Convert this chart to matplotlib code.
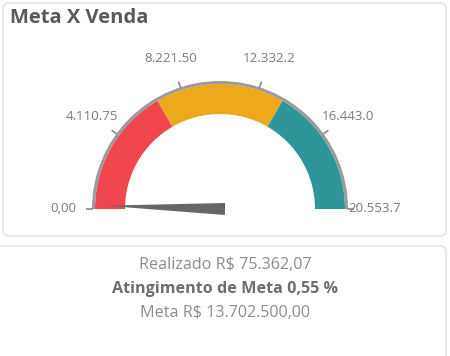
import matplotlib.pyplot as plt
import numpy as np
from matplotlib.patches import Wedge, Polygon, FancyBboxPatch

# gauge data
gauge_min = 0.0
gauge_max = 20553.7
band_edges = [0.0, 6851.25, 13702.5, 20553.7]
band_colors = ['#F0474F', '#EDA91B', '#2E9598']
tick_values = [0.0, 4110.75, 8221.5, 12332.2, 16443.0, 20553.7]
tick_labels = ['0,00', '4.110.75', '8.221.50', '12.332.2', '16.443.0', '20.553.7']
needle_value = 75.36

title = 'Meta X Venda'
info_lines = ['Realizado R$ 75.362,07', 'Atingimento de Meta 0,55 %', 'Meta R$ 13.702.500,00']

W, H = 450, 356
fig = plt.figure(figsize=(W / 100, H / 100), dpi=100)
ax = fig.add_axes([0, 0, 1, 1])
ax.set_xlim(0, W)
ax.set_ylim(0, H)
ax.axis('off')
plt.rcParams['font.family'] = ['Open Sans', 'DejaVu Sans']

# cards
ax.add_patch(FancyBboxPatch((3, H - 236), 443, 233, boxstyle='round,pad=0,rounding_size=6',
                            fc='white', ec='#E6E6E6', lw=1.2))
ax.add_patch(FancyBboxPatch((-6, -10), 452, H - 246 + 10, boxstyle='round,pad=0,rounding_size=6',
                            fc='white', ec='#E6E6E6', lw=1.2))

ax.text(10, H - 18, title, fontsize=14.5, fontweight='bold', color='#595959', va='center', ha='left')

cx, cy = 220, H - 209
r_out, r_in = 125, 95


def to_angle(v):
    return 180 - 180 * (v - gauge_min) / (gauge_max - gauge_min)


# colored bands
for i, col in enumerate(band_colors):
    a1 = to_angle(band_edges[i + 1])
    a2 = to_angle(band_edges[i])
    ax.add_patch(Wedge((cx, cy), r_out, a1, a2, width=r_out - r_in, fc=col, ec='none'))

# gray rim
ax.add_patch(Wedge((cx, cy), r_out + 3, 0, 180, width=3, fc='#9A9A9A', ec='none'))

# ticks and labels
for v, lab in zip(tick_values, tick_labels):
    a = np.radians(to_angle(v))
    x0, y0 = cx + (r_out + 2) * np.cos(a), cy + (r_out + 2) * np.sin(a)
    x1, y1 = cx + (r_out + 9) * np.cos(a), cy + (r_out + 9) * np.sin(a)
    ax.plot([x0, x1], [y0, y1], color='#8A8A8A', lw=1.2, solid_capstyle='butt')
    if v == gauge_min:
        ax.text(x1 - 10, cy, lab, fontsize=9.6, color='#7A7A7A', ha='right', va='center')
    elif v == gauge_max:
        ax.text(cx + r_out + 3, cy, lab, fontsize=9.6, color='#7A7A7A', ha='left', va='center')
    else:
        ax.text(cx + 158 * np.cos(a), cy + 158 * np.sin(a), lab, fontsize=9.6,
                color='#7A7A7A', ha='center', va='center')

# needle
a = np.radians(to_angle(needle_value))
tip = (cx + 115 * np.cos(a), cy + 115 * np.sin(a) + 2)
bx, by = cx + 5, cy
perp = (np.sin(a) * 6, -np.cos(a) * 6)
ax.add_patch(Polygon([tip, (bx + perp[0], by + perp[1]), (bx - perp[0], by - perp[1])],
                     closed=True, fc='#666666', ec='none'))

# info text
ax.text(225, H - 265, info_lines[0], fontsize=11.6, color='#8C8C8C', ha='center', va='center')
ax.text(225, H - 289, info_lines[1], fontsize=11.6, fontweight='bold', color='#6E6E6E', ha='center', va='center')
ax.text(225, H - 313, info_lines[2], fontsize=11.6, color='#8C8C8C', ha='center', va='center')

fig.savefig('out.png', dpi=100)
